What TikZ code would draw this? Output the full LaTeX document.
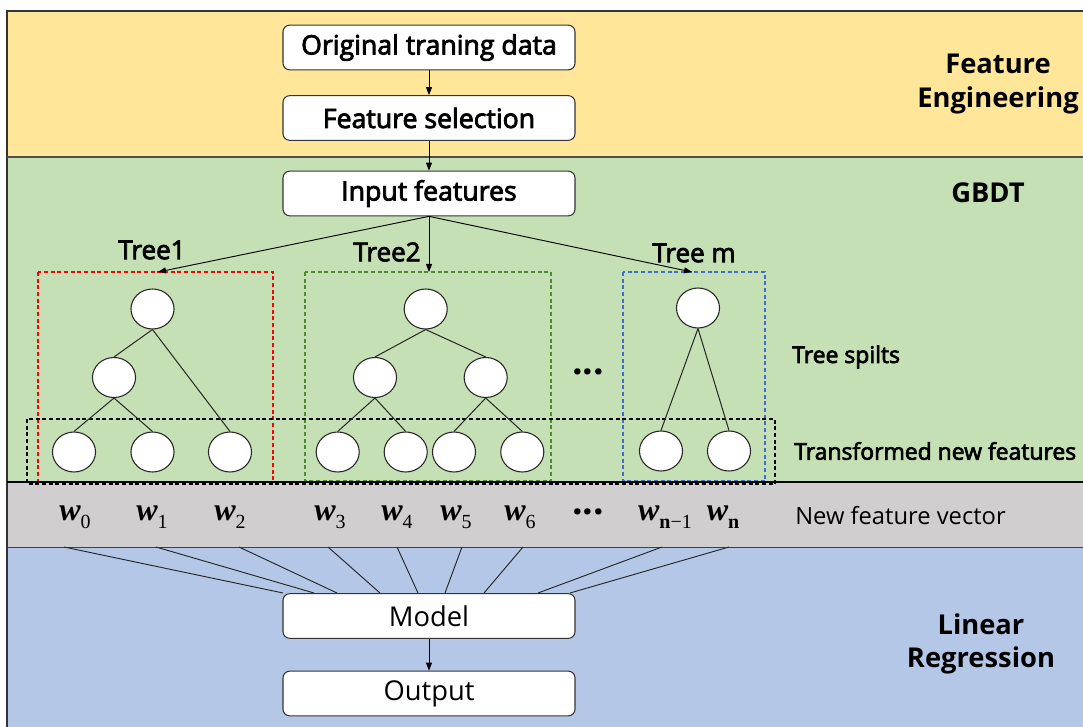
\documentclass[tikz,border=0pt]{standalone}
\usepackage{fontspec}
\setmainfont{Open Sans}
\newfontfamily\wfont{Liberation Serif}
\newfontfamily\semifont{Open Sans}[FakeBold=3]
\usetikzlibrary{arrows.meta,shapes.geometric}
\definecolor{bandY}{HTML}{FFE699}
\definecolor{bandG}{HTML}{C5E0B4}
\definecolor{bandGr}{HTML}{D0CECE}
\definecolor{bandB}{HTML}{B4C7E7}
\definecolor{dred}{HTML}{FF0000}
\definecolor{dgreen}{HTML}{4E8A2E}
\definecolor{dblue}{HTML}{3F6FC8}
\newcommand{\wl}[1]{{\wfont\bfseries\itshape w}\raisebox{-0.45ex}{\wfont\fontsize{15}{15}\selectfont #1}}
\begin{document}
\begin{tikzpicture}[x=0.75pt,y=-0.75pt,
  box/.style={draw=black!80, fill=white, rounded corners=5pt, line width=0.8pt,
    minimum width=219pt, minimum height=33.5pt, inner sep=0pt},
  boxsemi/.style={box, font=\semifont\fontsize{20}{24}\selectfont},
  boxreg/.style={box, font=\fontsize{20.5}{24}\selectfont},
  leaf/.style={ellipse, draw=black!85, fill=white, line width=0.8pt,
    minimum width=32.3pt, minimum height=30pt, inner sep=0pt},
  arr/.style={-{Triangle[length=6pt,width=4.5pt]}, line width=0.7pt},
  tedge/.style={line width=0.75pt, black!85},
  wline/.style={line width=0.7pt, black!85},
  tlabel/.style={font=\semifont\fontsize{19.5}{22}\selectfont, inner sep=0pt},
  title/.style={font=\bfseries\fontsize{20.5}{25}\selectfont, align=center, inner sep=0pt},
  side/.style={font=\semifont\fontsize{17.2}{20}\selectfont, anchor=west, inner sep=0pt},
  wlab/.style={font=\fontsize{24}{24}\selectfont, anchor=base, inner sep=0pt},
  dots/.style={font=\bfseries\fontsize{28}{28}\selectfont, inner sep=0pt},
  tdash/.style={dash pattern=on 3pt off 2pt, line width=0.9pt}
]
\useasboundingbox (0,0) rectangle (1083,727);
\clip (0,0) rectangle (1083,727);
% bands
\fill[bandY] (7,11) rectangle (1083,157);
\fill[bandG] (7,157) rectangle (1083,482);
\fill[bandGr] (7,482) rectangle (1083,547);
\fill[bandB] (7,547) rectangle (1083,730);
\draw[black!80, line width=0.8pt] (1090,11) -- (7,11) -- (7,735);
\draw[black!70, line width=0.8pt] (7,157) -- (1083,157);
\draw[dblue!60!black, line width=0.6pt] (7,547) -- (1083,547);

% top boxes
\node[boxsemi] (orig) at (429,47.5) {Original traning data};
\node[boxsemi] (fsel) at (429,118) {Feature selection};
\node[boxsemi] (inp) at (429,193.5) {Input features};
\draw[arr] (orig) -- (fsel);
\draw[arr] (fsel) -- (inp);

% section titles
\node[title] (tFE) at (998,84) {Feature\\Engineering};
\node[title] (tGB) at (988,193) {GBDT};
\node[title] (tLR) at (981,644) {Linear\\Regression};

% dashed boxes
\draw[tdash, draw=dred] (38,272) rectangle (273,482);
\draw[tdash, draw=dgreen] (305,272) rectangle (551,481);
\draw[tdash, draw=dblue] (623,272) rectangle (765,481);
\draw[tdash, draw=black] (27,419) rectangle (775,484);

% tree labels and arrows
\node[tlabel] (lt1) at (152,250) {Tree1};
\node[tlabel] (lt2) at (387,252) {Tree2};
\node[tlabel] (ltm) at (694,253) {Tree m};
\coordinate (tip1) at (158,272);
\coordinate (tip2) at (429,272);
\coordinate (tipm) at (692,272);
\draw[arr] (inp.south) -- (tip1);
\draw[arr] (inp.south) -- (tip2);
\draw[arr] (inp.south) -- (tipm);

% tree 1
\node[leaf] (r1) at (152.5,309) {};
\node[leaf] (a1) at (114,377.5) {};
\node[leaf] (l11) at (74,452) {};
\node[leaf] (l12) at (152.5,452) {};
\node[leaf] (l13) at (230,452) {};
\draw[tedge] (r1.south) -- (a1.north);
\draw[tedge] (r1.south) -- (l13.north);
\draw[tedge] (a1.south) -- (l11.north);
\draw[tedge] (a1.south) -- (l12.north);

% tree 2
\node[leaf] (r2) at (425.7,309) {};
\node[leaf] (a21) at (375,377.5) {};
\node[leaf] (a22) at (485.7,377.5) {};
\node[leaf] (l21) at (337.7,452) {};
\node[leaf] (l22) at (405.7,452) {};
\node[leaf] (l23) at (454,452) {};
\node[leaf] (l24) at (522.3,452) {};
\draw[tedge] (r2.south) -- (a21.north);
\draw[tedge] (r2.south) -- (a22.north);
\draw[tedge] (a21.south) -- (l21.north);
\draw[tedge] (a21.south) -- (l22.north);
\draw[tedge] (a22.south) -- (l23.north);
\draw[tedge] (a22.south) -- (l24.north);

% tree m
\node[leaf] (r3) at (698,308) {};
\node[leaf] (l31) at (661,451) {};
\node[leaf] (l32) at (729,451) {};
\draw[tedge] (r3.south) -- (l31.north);
\draw[tedge] (r3.south) -- (l32.north);

\node[dots] (dt) at (588,372) {...};

% side labels
\node[side] (ts) at (792,357) {Tree spilts};
\node[side] (tn) at (794,451) {Transformed new features};

% green/gray border
\draw[line width=1.8pt] (7,482) -- (1083,482);

% weights
\node[wlab] (w0) at (75,521) {\wl{0}};
\node[wlab] (w1) at (152,521) {\wl{1}};
\node[wlab] (w2) at (230,521) {\wl{2}};
\node[wlab] (w3) at (330,521) {\wl{3}};
\node[wlab] (w4) at (397,521) {\wl{4}};
\node[wlab] (w5) at (456,521) {\wl{5}};
\node[wlab] (w6) at (520,521) {\wl{6}};
\node[dots] (dw) at (588,512) {...};
\node[wlab] (wm) at (665,521) {\wl{\bfseries n\mdseries −1}};
\node[wlab] (wn) at (723,521) {\wl{\bfseries n}};
\node[font=\fontsize{17.8}{20}\selectfont, anchor=west, inner sep=0pt] (nfv) at (795,516) {New feature vector};

% bottom boxes
\node[boxreg] (model) at (429,616) {Model};
\node[boxreg] (out) at (429,693.5) {Output};
\draw[arr] (model) -- (out);

% weight lines
\foreach \i/\sx/\ex in {0/64/283,1/156/314,2/239/337,3/328/380,4/397/418,5/462/445,6/523/484,7/662/538,8/729/570}{
  \coordinate (s\i) at (\sx,547);
  \coordinate (e\i) at (\ex,593);
  \draw[wline] (s\i) -- (e\i);
}
\end{tikzpicture}
\end{document}
